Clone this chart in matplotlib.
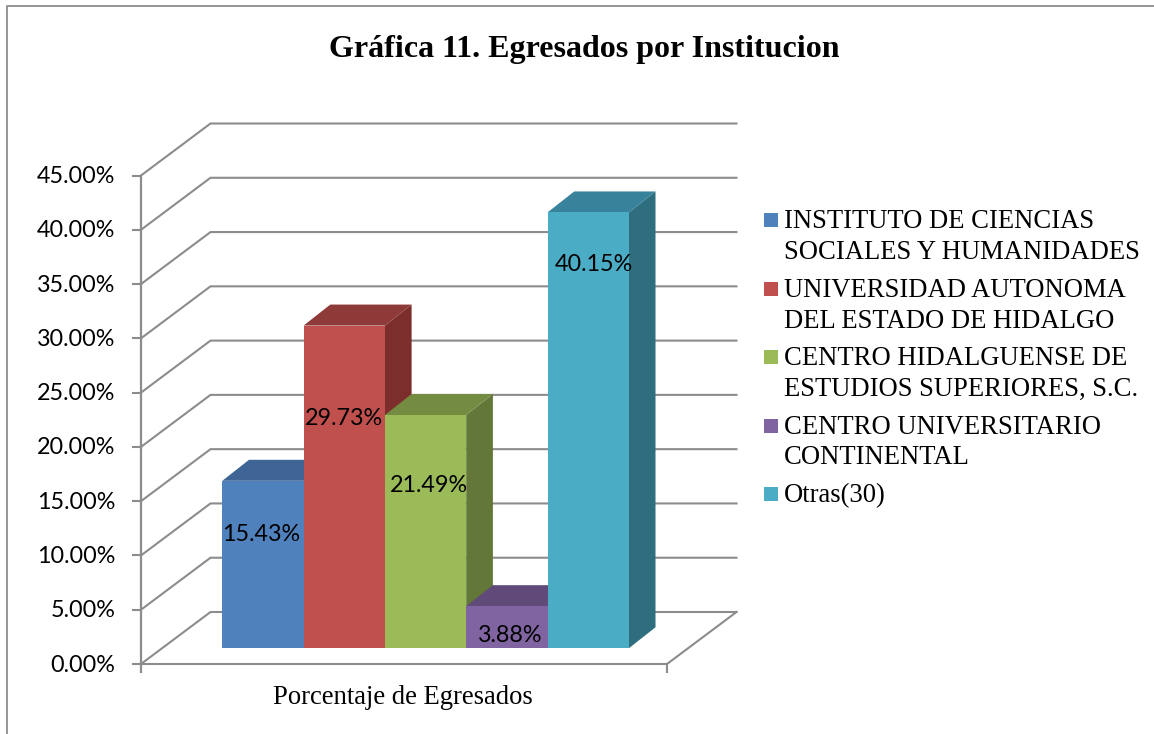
"""
Gráfica 11: barras 3D (estilo Excel) de egresados por institución.
"""

import matplotlib
matplotlib.use('Agg')
import matplotlib.pyplot as plt
from matplotlib.patches import Polygon, Rectangle

titulo = 'Gráfica 11. Egresados por Institucion'
categoria = 'Porcentaje de Egresados'
instituciones = ['INSTITUTO DE CIENCIAS\nSOCIALES Y HUMANIDADES',
                 'UNIVERSIDAD AUTONOMA\nDEL ESTADO DE HIDALGO',
                 'CENTRO HIDALGUENSE DE\nESTUDIOS SUPERIORES, S.C.',
                 'CENTRO UNIVERSITARIO\nCONTINENTAL',
                 'Otras(30)']
valores = [15.43, 29.73, 21.49, 3.88, 40.15]
ticks = [0, 5, 10, 15, 20, 25, 30, 35, 40, 45]

cores_frente = ['#4F81BD', '#C0504D', '#9BBB59', '#8064A2', '#4BACC6']
cores_topo = ['#3E6596', '#8E3A38', '#748C42', '#5F4A79', '#38839B']
cores_lado = ['#345580', '#7B2E2C', '#637739', '#503E67', '#2F6E7F']
# deslocamento dos rótulos em relação ao topo/centro da barra (px)
rotulo_dy = [54, 93, 70, 29, 52]
rotulo_dx = [-2, 0, 3.5, 3.5, 5.5]

# geometria da caixa 3D em pixels
X0, X1 = 141, 667
Y0 = 664
ESCALA = (664 - 175.5) / 45
PROF_X, PROF_Y = 69.5, 52
BAR_X0, BAR_W = 222.3, 81.3
BAR_Y0 = 648.3
BAR_DX, BAR_DY = 26.7, 21

COR_GRADE = '#8C8C8C'
SERIF = 'Liberation Serif'
SANS = 'Lato'


def y_px(valor, base=Y0):
    return base - valor * ESCALA


fig = plt.figure(figsize=(11.54, 7.34), dpi=100)
ax = fig.add_axes([0, 0, 1, 1])
ax.set_xlim(0, 1154)
ax.set_ylim(734, 0)
ax.axis('off')

# moldura
ax.plot([6.5, 6.5, 1154], [734, 6, 6], color='#8C8C8C', lw=1.3, zorder=1)

# grade: diagonal da parede lateral + linha da parede do fundo
for t in ticks:
    y = y_px(t)
    ax.plot([X0, X0 + PROF_X, X1 + PROF_X], [y, y - PROF_Y, y - PROF_Y],
            color=COR_GRADE, lw=1.5, zorder=2, solid_joinstyle='miter')
    ax.plot([X0 - 8, X0], [y, y], color=COR_GRADE, lw=1.5, zorder=2)
    ax.text(115.5, y + 1, f'{t:.2f}%', family=SANS, fontsize=16.8,
            ha='right', va='center', color='black')

# eixos
ax.plot([X0, X0], [y_px(45), Y0 + 8], color=COR_GRADE, lw=1.6, zorder=2)
ax.plot([X0, X1, X1 + PROF_X], [Y0, Y0, Y0 - PROF_Y], color=COR_GRADE, lw=1.5, zorder=2)
ax.plot([X1, X1], [Y0, Y0 + 8], color=COR_GRADE, lw=1.5, zorder=2)

# barras
for i, v in enumerate(valores):
    x0 = BAR_X0 + i * BAR_W
    x1 = x0 + BAR_W
    topo = y_px(v, BAR_Y0)
    ax.add_patch(Polygon([(x1, BAR_Y0), (x1 + BAR_DX, BAR_Y0 - BAR_DY),
                          (x1 + BAR_DX, topo - BAR_DY), (x1, topo)],
                         facecolor=cores_lado[i], edgecolor='none', zorder=3 + i))
    ax.add_patch(Polygon([(x0, topo), (x1, topo), (x1 + BAR_DX, topo - BAR_DY),
                          (x0 + BAR_DX, topo - BAR_DY)],
                         facecolor=cores_topo[i], edgecolor='none', zorder=3 + i))
    ax.add_patch(Rectangle((x0, topo), BAR_W, BAR_Y0 - topo,
                           facecolor=cores_frente[i], edgecolor='none', zorder=3 + i))

for i, v in enumerate(valores):
    ax.text(BAR_X0 + (i + 0.5) * BAR_W + rotulo_dx[i], y_px(v, BAR_Y0) + rotulo_dy[i], f'{v:.2f}%',
            family=SANS, fontsize=16.8, ha='center', va='center', color='black', zorder=10)

ax.text(584, 50, titulo, family=SERIF, fontsize=23, fontweight='bold',
        ha='center', va='center', color='black')
ax.text(403, 698, categoria, family=SERIF, fontsize=19.2, ha='center', va='center', color='black')

# legenda
y_leg = 219.3
for i, nome in enumerate(instituciones):
    n_linhas = nome.count('\n') + 1
    ax.add_patch(Rectangle((764, y_leg - 6), 14, 14, facecolor=cores_frente[i], edgecolor='none'))
    ax.text(783.5, y_leg - 10, nome, family=SERIF, fontsize=19.2, ha='left', va='top',
            linespacing=1.3, color='black')
    y_leg += 30 * n_linhas + 8.5

fig.savefig('out.png', dpi=100)
